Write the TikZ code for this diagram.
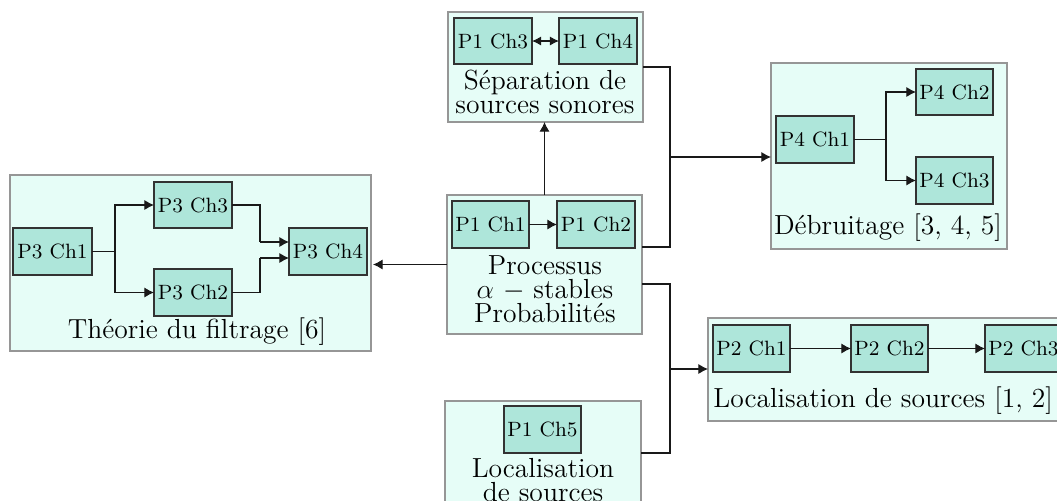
\documentclass[tikz,border=0pt]{standalone}
\usetikzlibrary{arrows.meta,calc}
\definecolor{outerfill}{RGB}{230,253,247}
\definecolor{outerdraw}{RGB}{150,150,150}
\definecolor{innerfill}{RGB}{174,230,218}
\definecolor{innerdraw}{RGB}{50,50,50}
\newcommand{\pxu}{0.4348pt}
% box: name, style, x1, y1, x2, y2, text
\newcommand{\bx}[7]{\node[#2, minimum width={(#5-#3)*0.4348pt}, minimum height={(#6-#4)*0.4348pt}] (#1) at ({(#3+#5)/2},{(#4+#6)/2}) {#7};}
\begin{document}
\begin{tikzpicture}[x=0.4348pt,y=-0.4348pt,
  outerbox/.style={draw=outerdraw, fill=outerfill, inner sep=0pt, outer sep=0pt, line width=0.5pt},
  innerbox/.style={draw=innerdraw, fill=innerfill, inner sep=0pt, outer sep=0pt, line width=0.45pt, font=\fontsize{9}{10}\selectfont},
  lbl/.style={inner sep=0pt, align=center, font=\fontsize{12}{10.4}\selectfont},
  conn/.style={line width=0.45pt, black!90},
  arr/.style={conn, -{Latex[length=4.2pt,width=4.4pt]}},
  darr/.style={conn, {Latex[length=4pt,width=4pt]}-{Latex[length=4pt,width=4pt]}}]
\useasboundingbox (0,0) rectangle (1057,500);
\clip (0,0) rectangle (1057,500);

% outer boxes
\bx{sep}{outerbox}{448}{12}{643}{122}{}
\bx{proc}{outerbox}{447}{195}{642}{334}{}
\bx{theo}{outerbox}{10}{175}{371}{351}{}
\bx{deb}{outerbox}{771}{63}{1007}{249}{}
\bx{loc}{outerbox}{708}{318}{1080}{421}{}
\bx{loctwo}{outerbox}{445}{401}{641}{505}{}

% inner boxes
\bx{p1c3}{innerbox}{454}{18}{532}{64}{P1 Ch3}
\bx{p1c4}{innerbox}{559}{18}{637}{64}{P1 Ch4}
\bx{p1c1}{innerbox}{452}{201}{529}{248}{P1 Ch1}
\bx{p1c2}{innerbox}{557}{201}{635}{248}{P1 Ch2}
\bx{p3c1}{innerbox}{13}{228}{92}{275}{P3 Ch1}
\bx{p3c3}{innerbox}{154}{182}{232}{228}{P3 Ch3}
\bx{p3c2}{innerbox}{154}{269}{232}{316}{P3 Ch2}
\bx{p3c4}{innerbox}{289}{228}{367}{275}{P3 Ch4}
\bx{p4c1}{innerbox}{776}{116}{854}{163}{P4 Ch1}
\bx{p4c2}{innerbox}{916}{69}{993}{115}{P4 Ch2}
\bx{p4c3}{innerbox}{916}{157}{993}{204}{P4 Ch3}
\bx{p2c1}{innerbox}{713}{325}{790}{372}{P2 Ch1}
\bx{p2c2}{innerbox}{851}{325}{928}{372}{P2 Ch2}
\bx{p2c3}{innerbox}{985}{325}{1062}{372}{P2 Ch3}
\bx{p1c5}{innerbox}{504}{406}{581}{453}{P1 Ch5}

% labels
\node[lbl] (seplbl) at (545,92) {S\'eparation de\\sources sonores};
\node[lbl] (proclbl) at (545,289) {Processus\\$\alpha$ $-$ stables\\Probabilit\'es};
\node[lbl] (theolbl) at (197,332) {Th\'eorie du filtrage [6]};
\node[lbl] (deblbl) at (888,228) {D\'ebruitage [3, 4, 5]};
\node[lbl, anchor=west] (loclbl) at (713,401) {Localisation de sources [1, 2]};
\node[lbl] (loctwolbl) at (543,480) {Localisation\\de sources};

% junction coordinates
\coordinate (jd) at (670,157);
\coordinate (jl) at (670,369);
\coordinate (jt) at (115,251.5);
\coordinate (jtu) at (260,242);
\coordinate (jtd) at (260,258);
\coordinate (jb) at (886,139.5);

% connectors
\draw[darr] (p1c3) -- (p1c4);
\draw[arr] (p1c1) -- (p1c2);
\draw[arr] (proc.north) -- (proc.north |- sep.south);
\draw[arr] (proc.west) -- ([xshift=2*\pxu]proc.west -| theo.east);
\draw[conn] (sep.east) -| (jd) |- ([yshift=17.5*\pxu]proc.east);
\draw[arr] (jd) -- (jd -| deb.west);
\draw[conn] ([yshift=-19.5*\pxu]proc.east) -| (jl) |- (loctwo.east);
\draw[arr] (jl) -- (jl -| loc.west);

\draw[conn] (p3c1.east) -- (jt);
\draw[arr] (jt) |- (p3c3.west);
\draw[arr] (jt) |- (p3c2.west);
\draw[conn] (p3c3.east) -| (jtu);
\draw[arr] (jtu) -- (jtu -| p3c4.west);
\draw[conn] (p3c2.east) -| (jtd);
\draw[arr] (jtd) -- (jtd -| p3c4.west);

\draw[conn] (p4c1.east) -- (jb);
\draw[arr] (jb) |- (p4c2.west);
\draw[arr] (jb) |- (p4c3.west);

\draw[arr] (p2c1) -- (p2c2);
\draw[arr] (p2c2) -- (p2c3);
\end{tikzpicture}
\end{document}
